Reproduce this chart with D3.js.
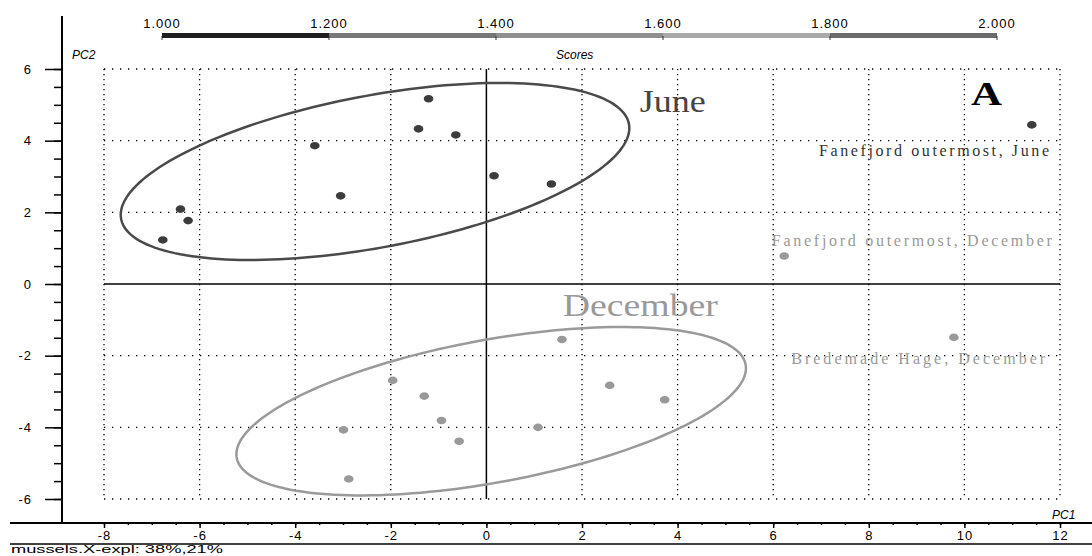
<!DOCTYPE html>
<html>
<head>
<meta charset="utf-8">
<script src="https://cdn.jsdelivr.net/npm/d3@7"></script>
<style>
  body { margin: 0; background: #fff; }
  svg { display: block; }
</style>
</head>
<body>
<svg id="chart"></svg>
<script>
// PCA scores (PC1, PC2)
const juneX = [-1.21, -1.42, -0.64, -3.59, -3.05, -6.40, -6.24, -6.77, 0.16, 1.36, 11.41];
const juneY = [5.17, 4.33, 4.16, 3.86, 2.46, 2.09, 1.77, 1.23, 3.02, 2.79, 4.44];
const decX = [1.58, -1.96, -1.30, -0.94, -2.99, -0.57, -2.88, 1.08, 2.58, 3.73, 6.23, 9.78];
const decY = [-1.55, -2.69, -3.13, -3.81, -4.07, -4.39, -5.44, -4.00, -2.83, -3.23, 0.78, -1.49];

// confidence ellipses: centre, half-extent in x / y, phase (deg)
const juneEllipse = [-2.33, 3.14, 5.32, 2.47, 60.7];
const decEllipse = [0.10, -3.55, 5.33, 2.35, 59.3];

const xTicks = [-8, -6, -4, -2, 0, 2, 4, 6, 8, 10, 12];
const yTicks = [-6, -4, -2, 0, 2, 4, 6];
const scoreTicks = [1.0, 1.2, 1.4, 1.6, 1.8, 2.0];
const scoreColors = ["#1e1e1e", "#777777", "#8f8f8f", "#a9a9a9", "#6a6a6a"];

const W = 1092, H = 556;
const svg = d3.select("#chart").attr("width", W).attr("height", H);

const x = d3.scaleLinear().domain([-8, 12]).range([104, 1060]);
const y = d3.scaleLinear().domain([-6, 6]).range([499, 69]);
const s = d3.scaleLinear().domain([1, 2]).range([162, 997]);

const sans = "'Liberation Sans', Arial, sans-serif";
const serif = "'Liberation Serif', 'Times New Roman', serif";
const plain = d => String(d); // hyphen minus like the original

// dotted grid
const grid = svg.append("g");
grid.selectAll(".gx")
  .data(xTicks.filter(d => d !== 0))
  .enter().append("line")
  .attr("x1", d => x(d)).attr("x2", d => x(d))
  .attr("y1", y(6)).attr("y2", y(-6))
  .attr("stroke", "#000").attr("stroke-width", 1.3)
  .attr("stroke-dasharray", "1.3,3.7");
grid.selectAll(".gy")
  .data(yTicks.filter(d => d !== 0))
  .enter().append("line")
  .attr("x1", x(-8)).attr("x2", x(12))
  .attr("y1", d => y(d)).attr("y2", d => y(d))
  .attr("stroke", "#000").attr("stroke-width", 1.3)
  .attr("stroke-dasharray", "1.3,6.7");

// zero lines
svg.append("line")
  .attr("x1", x(0)).attr("x2", x(0)).attr("y1", y(6)).attr("y2", y(-6))
  .attr("stroke", "#000").attr("stroke-width", 1.5);
svg.append("line")
  .attr("x1", x(-8)).attr("x2", x(12)).attr("y1", y(0)).attr("y2", y(0))
  .attr("stroke", "#000").attr("stroke-width", 1.5);

// left axis
svg.append("line")
  .attr("x1", 62).attr("x2", 62).attr("y1", 16).attr("y2", 523)
  .attr("stroke", "#000").attr("stroke-width", 2);
const yMinor = svg.append("g")
  .attr("transform", "translate(62,0)")
  .call(d3.axisLeft(y).ticks(24).tickSize(8).tickFormat(""));
const yMajor = svg.append("g")
  .attr("transform", "translate(62,0)")
  .call(d3.axisLeft(y).tickValues(yTicks).tickSize(17).tickPadding(13).tickFormat(plain));
[yMinor, yMajor].forEach(g => {
  g.select(".domain").remove();
  g.selectAll(".tick line").attr("stroke", "#000").attr("stroke-width", 1.5);
});
yMajor.selectAll(".tick text")
  .attr("font-family", sans).attr("font-size", 13).attr("fill", "#000")
  .style("letter-spacing", "1px");

// bottom axis
svg.append("line")
  .attr("x1", 10).attr("x2", W).attr("y1", 523).attr("y2", 523)
  .attr("stroke", "#000").attr("stroke-width", 2);
svg.append("line")
  .attr("x1", 10).attr("x2", W).attr("y1", 544).attr("y2", 544)
  .attr("stroke", "#000").attr("stroke-width", 1.5);
const xMinor = svg.append("g")
  .attr("transform", "translate(0,523)")
  .call(d3.axisBottom(x).ticks(40).tickSize(2).tickFormat(""));
const xMajor = svg.append("g")
  .attr("transform", "translate(0,523)")
  .call(d3.axisBottom(x).tickValues(xTicks).tickSize(5).tickPadding(3).tickFormat(plain));
[xMinor, xMajor].forEach(g => {
  g.select(".domain").remove();
  g.selectAll(".tick line").attr("stroke", "#000").attr("stroke-width", 1.5);
});
xMajor.selectAll(".tick text")
  .attr("font-family", sans).attr("font-size", 13).attr("fill", "#000")
  .style("letter-spacing", "1px");

// score colour bar
const segs = d3.pairs(scoreTicks);
svg.selectAll(".seg")
  .data(segs)
  .enter().append("rect")
  .attr("x", d => s(d[0])).attr("width", d => s(d[1]) - s(d[0]))
  .attr("y", 33).attr("height", 5)
  .attr("fill", (d, i) => scoreColors[i]);
svg.selectAll(".stick")
  .data(scoreTicks)
  .enter().append("line")
  .attr("x1", d => s(d)).attr("x2", d => s(d))
  .attr("y1", 36).attr("y2", 40)
  .attr("stroke", "#333").attr("stroke-width", 1);
svg.selectAll(".slab")
  .data(scoreTicks)
  .enter().append("text")
  .attr("x", d => s(d)).attr("y", 28)
  .attr("text-anchor", "middle")
  .attr("font-family", sans).attr("font-size", 13)
  .style("letter-spacing", "1px")
  .text(d => d3.format(".3f")(d));

// axis titles
svg.append("text").attr("x", 72).attr("y", 59)
  .attr("font-family", sans).attr("font-size", 12).attr("font-style", "italic")
  .text("PC2");
svg.append("text").attr("x", 556).attr("y", 59)
  .attr("font-family", sans).attr("font-size", 12).attr("font-style", "italic")
  .text("Scores");
svg.append("text").attr("x", 1052).attr("y", 519)
  .attr("font-family", sans).attr("font-size", 12).attr("font-style", "italic")
  .text("PC1");
svg.append("text").attr("x", 11).attr("y", 553)
  .attr("font-family", sans).attr("font-size", 11.5)
  .attr("textLength", 212).attr("lengthAdjust", "spacingAndGlyphs")
  .text("mussels.X-expl: 38%,21%");

// ellipses
const ellipsePath = e => {
  const [cx, cy, rx, ry, ph] = e;
  const phi = ph * Math.PI / 180;
  const pts = d3.range(0, 2 * Math.PI, Math.PI / 90)
    .map(t => [cx + rx * Math.cos(t), cy + ry * Math.cos(t - phi)]);
  return d3.line().x(d => x(d[0])).y(d => y(d[1])).curve(d3.curveLinearClosed)(pts);
};
svg.append("path").attr("d", ellipsePath(juneEllipse))
  .attr("fill", "none").attr("stroke", "#4a4a4a").attr("stroke-width", 2.5);
svg.append("path").attr("d", ellipsePath(decEllipse))
  .attr("fill", "none").attr("stroke", "#9a9a9a").attr("stroke-width", 2.5);

// points
svg.selectAll(".june")
  .data(juneX.map((v, i) => [v, juneY[i]]))
  .enter().append("ellipse")
  .attr("cx", d => x(d[0])).attr("cy", d => y(d[1]))
  .attr("rx", 4.8).attr("ry", 3.8)
  .attr("fill", "#3c3c3c");
svg.selectAll(".dec")
  .data(decX.map((v, i) => [v, decY[i]]))
  .enter().append("ellipse")
  .attr("cx", d => x(d[0])).attr("cy", d => y(d[1]))
  .attr("rx", 4.8).attr("ry", 3.8)
  .attr("fill", "#999");

// annotations (anchored in data space)
const notes = [
  { t: "June", px: 3.21, py: 4.81, size: 31, w: 66, fit: "spacingAndGlyphs", anchor: "start", fill: "#444", weight: "normal" },
  { t: "December", px: 1.60, py: -0.89, size: 31, w: 155, fit: "spacingAndGlyphs", anchor: "start", fill: "#999", weight: "normal" },
  { t: "A", px: 10.14, py: 5.0, size: 34, w: 31, fit: "spacingAndGlyphs", anchor: "start", fill: "#000", weight: "bold" },
  { t: "Fanefjord outermost, June", px: 11.77, py: 3.56, size: 16, w: 230, fit: "spacing", anchor: "end", fill: "#333", weight: "normal" },
  { t: "Fanefjord outermost, December", px: 11.83, py: 1.07, size: 16, w: 280, fit: "spacing", anchor: "end", fill: "#999", weight: "normal" },
  { t: "Bredemade Hage, December", px: 11.69, py: -2.23, size: 16, w: 254, fit: "spacing", anchor: "end", fill: "#999", weight: "normal" }
];
svg.selectAll(".note")
  .data(notes)
  .enter().append("text")
  .attr("x", d => x(d.px)).attr("y", d => y(d.py))
  .attr("text-anchor", d => d.anchor)
  .attr("font-family", serif).attr("font-size", d => d.size)
  .attr("font-weight", d => d.weight)
  .attr("fill", d => d.fill)
  .attr("textLength", d => d.w).attr("lengthAdjust", d => d.fit)
  .text(d => d.t);
</script>
</body>
</html>
